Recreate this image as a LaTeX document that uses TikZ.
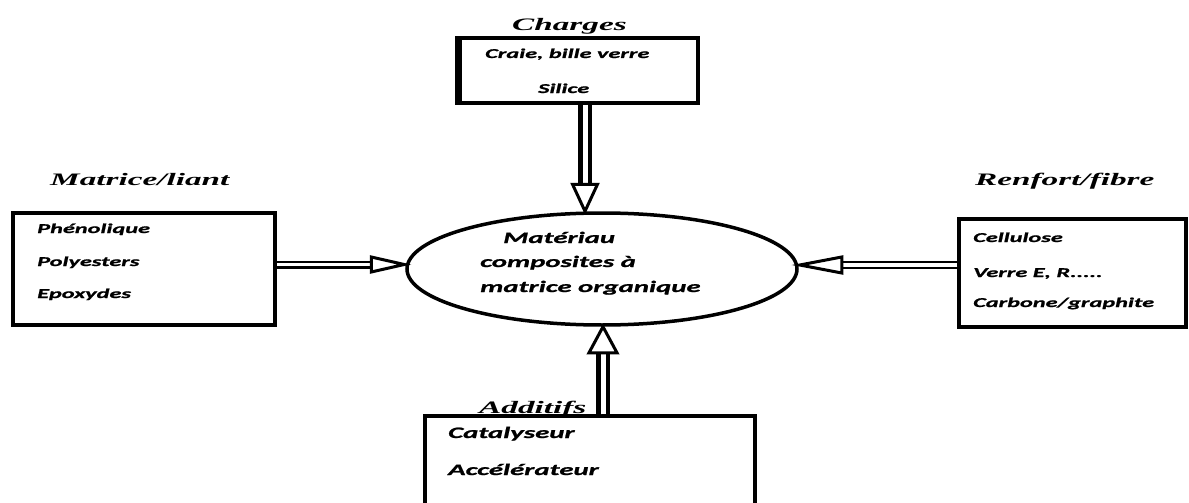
\documentclass[tikz,border=0pt]{standalone}
\usepackage{fontspec}
\usetikzlibrary{shapes.geometric,calc}
\newfontfamily\ttlfont[FakeStretch=1.9]{Liberation Serif}
\newfontfamily\boxfont[FakeStretch=1.8,FakeBold=1.2]{Carlito}
\begin{document}
\begin{tikzpicture}[x=1pt,y=-1pt,
  box/.style={draw, rectangle, line width=3.5pt, inner sep=0pt},
  ttl/.style={anchor=base west, inner sep=0pt, font=\ttlfont\bfseries\itshape\fontsize{17.5}{20}\selectfont},
  itm/.style={anchor=base west, inner sep=0pt, font=\boxfont\bfseries\itshape\fontsize{13.5}{16}\selectfont},
  big/.style={anchor=base west, inner sep=0pt, font=\boxfont\bfseries\itshape\fontsize{16}{19}\selectfont},
  vshaft/.style={line width=4.8pt, double=white, double distance=5pt},
  hshaft/.style={line width=2.4pt, double=white, double distance=3.2pt},
  head/.style={line width=3pt, fill=white, line join=miter}]
\useasboundingbox (0,0) rectangle (1189,503);
\clip (0,0) rectangle (1189,503);

% boxes
\node[box, minimum width=238pt, minimum height=65pt] (charges) at (579,70.5) {};
\node[box, minimum width=262pt, minimum height=112pt] (matrice) at (144,269) {};
\node[box, minimum width=227pt, minimum height=108pt] (renfort) at (1072.5,273) {};
\node[box, minimum width=330pt, minimum height=110pt] (additifs) at (590,471) {};
\node[draw, ellipse, line width=3.5pt, minimum width=390pt, minimum height=112pt, inner sep=0pt] (mat) at (602,269) {};
\draw[line width=3pt] ([xshift=-1.5pt]charges.north west) -- ([xshift=-1.5pt]charges.south west);

% titles
\node[ttl] (tCharges) at (512,31) {Charges};
\node[ttl] (tMatrice) at (50,185) {Matrice/liant};
\node[ttl] (tRenfort) at (975,185) {Renfort/fibre};
\node[ttl] (tAdditifs) at (479,413) {Additifs};

% box contents
\node[itm] (c1) at (485,58) {Craie, bille verre};
\node[itm] (c2) at (538,93) {Silice};
\node[itm] (m1) at (37,233) {Phénolique};
\node[itm] (m2) at (37,266) {Polyesters};
\node[itm] (m3) at (37,298) {Epoxydes};
\node[itm] (r1) at (973,242) {Cellulose};
\node[itm] (r2) at (973,277) {Verre E, R.....};
\node[itm] (r3) at (973,307) {Carbone/graphite};
\node[big] (a1) at (448,438) {Catalyseur};
\node[big] (a2) at (448,475) {Accélérateur};

% ellipse text
\node[big] (e1) at (503,243) {Matériau};
\node[big] (e2) at (480,267) {composites à};
\node[big] (e3) at (480,292) {matrice organique};

% arrows
\coordinate (dT) at ($(mat.north)+(-17,0)$);
\draw[vshaft] (charges.south -| dT) -- ($(dT)+(0,-27)$);
\draw[head] (dT) -- ++(-12.5,-27) -- ++(25,0) -- cycle;

\coordinate (uT) at ($(mat.south)+(1,0)$);
\draw[vshaft] (additifs.north -| uT) -- ($(uT)+(0,26)$);
\draw[head] (uT) -- ++(-14,26) -- ++(28,0) -- cycle;

\coordinate (lT) at ($(mat.west)+(-1,-4.5)$);
\draw[hshaft] (matrice.east |- lT) -- ($(lT)+(-33,0)$);
\draw[head] (lT) -- ++(-33,-7.5) -- ++(0,15) -- cycle;

\coordinate (rT) at ($(mat.east)+(1,-4)$);
\draw[hshaft] (renfort.west |- rT) -- ($(rT)+(42,0)$);
\draw[head] (rT) -- ++(42,-8) -- ++(0,16) -- cycle;
\end{tikzpicture}
\end{document}
